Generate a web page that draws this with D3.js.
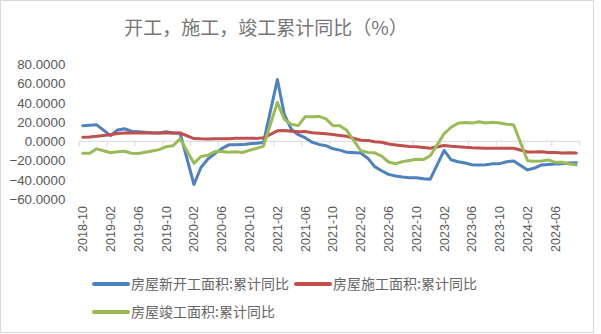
<!DOCTYPE html>
<html>
<head>
<meta charset="utf-8">
<script src="https://cdn.jsdelivr.net/npm/d3@7/dist/d3.min.js"></script>
<style>
  html, body { margin: 0; padding: 0; background: #fff; }
  svg { display: block; }
</style>
</head>
<body>
<script>
// Monthly categories, 2018-10 .. 2024-09 (January figures are not published: null)
const months = [];
for (let y = 2018, m = 10; y < 2024 || (y === 2024 && m <= 9); ) {
  months.push(y + "-" + String(m).padStart(2, "0"));
  m++; if (m > 12) { m = 1; y++; }
}

// 房屋新开工面积:累计同比 (%)
const newStarts = [
  16.3, 16.8, 17.2,
  null, 6.0, 11.9, 13.1, 10.5, 10.1, 9.5, 8.9, 8.6, 10.0, 8.6, 8.5,
  null, -44.9, -27.2, -18.4, -12.8, -7.6, -3.6, -3.6, -3.4, -2.4, -2.0, -1.2,
  null, 64.3, 28.2, 12.8, 6.9, 3.8, -0.9, -3.2, -4.5, -7.7, -9.1, -11.4,
  null, -12.2, -17.5, -26.3, -30.6, -34.4, -36.1, -37.2, -38.0, -37.8, -38.9, -39.4,
  null, -9.4, -19.2, -21.2, -22.6, -24.3, -24.5, -24.4, -23.4, -23.2, -21.2, -20.4,
  null, -29.7, -27.8, -24.6, -24.2, -23.7, -23.2, -22.5, -22.2
];

// 房屋施工面积:累计同比 (%)
const underConstruction = [
  4.4, 4.6, 5.2,
  null, 6.8, 8.2, 8.8, 8.8, 8.8, 9.0, 8.8, 8.7, 9.0, 8.7, 8.7,
  null, 2.9, 2.6, 2.5, 2.6, 2.6, 2.8, 3.2, 3.3, 3.2, 3.1, 3.7,
  null, 11.0, 11.2, 10.5, 10.1, 10.2, 9.0, 8.4, 7.9, 7.1, 6.1, 5.2,
  null, 1.1, 1.0, -0.5, -1.0, -2.8, -3.7, -4.5, -5.3, -5.7, -6.5, -7.2,
  null, -4.4, -5.2, -5.6, -6.2, -6.6, -6.8, -7.1, -7.1, -7.3, -7.2, -7.2,
  null, -11.0, -11.1, -10.8, -11.6, -11.6, -12.1, -11.9, -12.2
];

// 房屋竣工面积:累计同比 (%)
const completions = [
  -12.5, -12.3, -7.8,
  null, -11.9, -10.8, -10.3, -12.4, -12.7, -11.3, -10.0, -8.6, -5.5, -4.5, 2.6,
  null, -22.9, -15.8, -14.5, -10.6, -10.5, -11.4, -10.8, -11.6, -9.2, -7.3, -4.9,
  null, 40.4, 22.9, 17.9, 16.4, 25.7, 25.7, 26.0, 23.4, 16.3, 16.2, 11.2,
  null, -9.8, -11.5, -11.9, -15.3, -21.5, -23.3, -21.1, -19.9, -18.7, -19.0, -15.0,
  null, 8.0, 14.7, 18.8, 19.6, 19.0, 20.5, 19.2, 19.8, 19.0, 17.9, 17.0,
  null, -20.2, -20.7, -20.4, -19.4, -21.8, -21.8, -23.6, -24.4
];

const seriesNames = ["房屋新开工面积:累计同比", "房屋施工面积:累计同比", "房屋竣工面积:累计同比"];
const seriesColors = ["#4F81BD", "#C0504D", "#9BBB59"];
const yTicks = [-60, -40, -20, 0, 20, 40, 60, 80];
const titleText = "开工，施工，竣工累计同比（%）";

const W = 601, H = 334;
const svg = d3.select("body").append("svg").attr("width", W).attr("height", H);

// chart frame
svg.append("rect")
  .attr("x", 0.5).attr("y", 0.5).attr("width", 593).attr("height", 332)
  .attr("fill", "#fff").attr("stroke", "#d9d9d9").attr("stroke-width", 1);

// title
svg.append("text")
  .attr("x", 266).attr("y", 35)
  .attr("text-anchor", "middle")
  .attr("font-family", "'Noto Sans CJK SC', sans-serif")
  .attr("font-size", 19)
  .attr("fill", "#767676")
  .text(titleText);

const x = d3.scaleBand().domain(months).range([79.3, 579.7]).padding(0);
const y = d3.scaleLinear().domain([-60, 80]).range([199, 64.5]);
const cx = m => x(m) + x.bandwidth() / 2;

// y axis labels
const yAxis = svg.append("g")
  .attr("transform", "translate(79.3,0)")
  .call(d3.axisLeft(y).tickValues(yTicks).tickFormat(d3.format(".4f")).tickSize(0).tickPadding(14));
yAxis.select(".domain").remove();
yAxis.selectAll("text")
  .attr("font-family", "'Liberation Sans', Arial, sans-serif")
  .attr("font-size", 13.3)
  .attr("fill", "#595959");

// category axis on the zero line, ticks every 4 months
const y0 = y(0);
svg.append("line")
  .attr("x1", x.range()[0]).attr("x2", x.range()[1])
  .attr("y1", y0).attr("y2", y0)
  .attr("stroke", "#d9d9d9").attr("stroke-width", 1);
const tickIdx = d3.range(0, months.length + 1, 4);
svg.append("g").selectAll("line").data(tickIdx).join("line")
  .attr("x1", i => i < months.length ? x(months[i]) : x.range()[1])
  .attr("x2", i => i < months.length ? x(months[i]) : x.range()[1])
  .attr("y1", y0).attr("y2", y0 + 5)
  .attr("stroke", "#d9d9d9").attr("stroke-width", 1);

// rotated month labels along the bottom
const labelMonths = months.filter((m, i) => i % 4 === 0);
svg.append("g").selectAll("text").data(labelMonths).join("text")
  .attr("transform", m => `translate(${cx(m)},206) rotate(-90)`)
  .attr("text-anchor", "end")
  .attr("dy", "0.35em")
  .attr("font-family", "'Liberation Sans', Arial, sans-serif")
  .attr("font-size", 12.5)
  .attr("fill", "#595959")
  .text(m => m);

// series lines (gaps for January are bridged)
const allSeries = [newStarts, underConstruction, completions];
const line = d3.line().x(d => cx(d.m)).y(d => y(d.v));
allSeries.forEach((vals, k) => {
  const pts = months.map((m, i) => ({ m, v: vals[i] })).filter(d => d.v != null);
  svg.append("path")
    .datum(pts)
    .attr("d", line)
    .attr("fill", "none")
    .attr("stroke", seriesColors[k])
    .attr("stroke-width", 3)
    .attr("stroke-linejoin", "round")
    .attr("stroke-linecap", "round");
});

// legend
const legendItems = [
  { k: 0, x: 94, y: 284 },
  { k: 1, x: 296, y: 284 },
  { k: 2, x: 94, y: 312 }
];
const lg = svg.append("g").selectAll("g").data(legendItems).join("g")
  .attr("transform", d => `translate(${d.x},${d.y})`);
lg.append("line")
  .attr("x1", 0).attr("x2", 34).attr("y1", 0).attr("y2", 0)
  .attr("stroke", d => seriesColors[d.k]).attr("stroke-width", 4)
  .attr("stroke-linecap", "round");
lg.append("text")
  .attr("x", 37).attr("dy", "0.35em")
  .attr("font-family", "'Noto Sans CJK SC', sans-serif")
  .attr("font-size", 14)
  .attr("fill", "#666666")
  .text(d => seriesNames[d.k]);
</script>
</body>
</html>
